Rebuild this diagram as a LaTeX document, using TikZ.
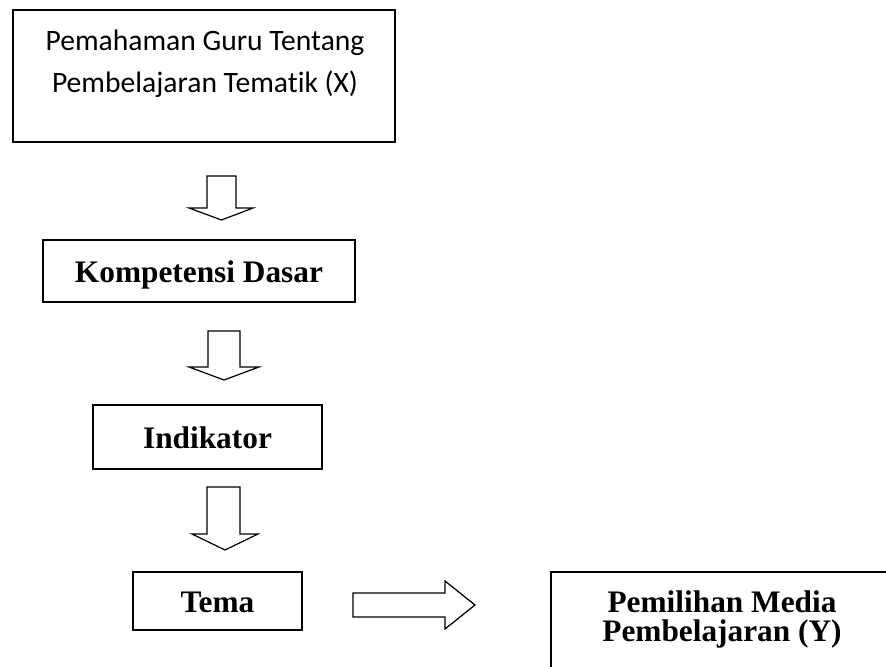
\documentclass[tikz,border=0pt]{standalone}
\usepackage{fontspec}
\setmainfont{Liberation Serif}
\newfontfamily\carlito[Ligatures=NoCommon]{Carlito}
\usetikzlibrary{positioning,calc}

\begin{document}
\begin{tikzpicture}[x=0.75pt,y=-0.75pt,line join=miter]
\tikzset{
  kotak/.style={draw,line width=1.4pt,inner sep=0pt},
  tebal/.style={font=\fontsize{23.5}{21.5}\selectfont\bfseries,text height=17.6pt,text depth=0pt,inner sep=0pt},
  panah/.style={draw,line width=0.9pt,fill=white}
}
\useasboundingbox (0,0) rectangle (886,667);

%Kotak
\node[kotak,minimum width=286.5pt,minimum height=99pt] (guru) at (204,76) {};
\node[kotak,tebal,minimum width=234pt,minimum height=46.5pt] (kd) at (199,271) {Kompetensi Dasar};
\node[kotak,tebal,minimum width=171.75pt,minimum height=48pt] (ind) at (207.5,437) {Indikator};
\node[kotak,tebal,minimum width=126.75pt,minimum height=43.5pt] (tema) at (217.5,601) {Tema};
\node[kotak,minimum width=258pt,minimum height=120pt,anchor=north west] (media) at (550,571) {};

%Teks
\node[font=\carlito\fontsize{22.2}{31.5}\selectfont,align=center,anchor=base,inner sep=0pt] (gurutext) at (205,93) {Pemahaman Guru Tentang\\Pembelajaran Tematik (X)};
\node[font=\fontsize{23.5}{21.5}\selectfont\bfseries,align=center,anchor=base,inner sep=0pt] (mediatext) at (722,641) {Pemilihan Media\\Pembelajaran (Y)};

%Panah
\filldraw[panah] (207,176)--(236,176)--(236,208)--(253,208)--(221.5,220)--(189,208)--(207,208)--cycle;
\filldraw[panah] (208,331)--(240,331)--(240,367)--(259,367)--(224,380)--(189,367)--(208,367)--cycle;
\filldraw[panah] (207,487)--(240,487)--(240,534)--(258,534)--(225,550)--(192,534)--(207,534)--cycle;
\filldraw[panah] (353,593)--(445,593)--(445,581)--(475,605)--(445,629)--(445,617)--(353,617)--cycle;

\end{tikzpicture}
\end{document}
